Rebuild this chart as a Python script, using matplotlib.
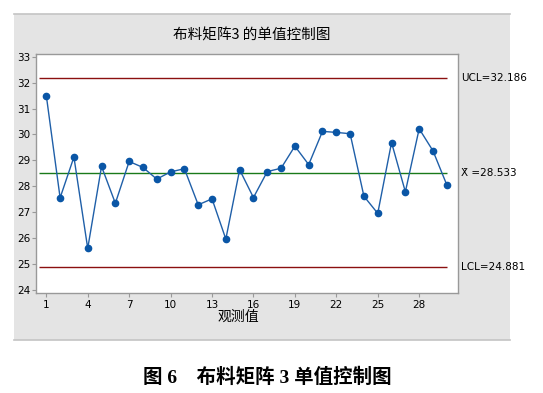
import matplotlib.pyplot as plt
from matplotlib.patches import Rectangle

# I-chart data for 布料矩阵3
obs = list(range(1, 31))
values = [31.50, 27.56, 29.13, 25.61, 28.77, 27.35, 28.96, 28.73, 28.28, 28.56,
          28.68, 27.29, 27.52, 25.97, 28.64, 27.57, 28.57, 28.70, 29.55, 28.84,
          30.12, 30.08, 30.03, 27.62, 26.96, 29.69, 27.79, 30.22, 29.37, 28.06]
ucl = 32.186
center = 28.533
lcl = 24.881
xticks = [1, 4, 7, 10, 13, 16, 19, 22, 25, 28]
yticks = [24, 25, 26, 27, 28, 29, 30, 31, 32, 33]

plt.rcParams['font.family'] = ['DejaVu Sans', 'Noto Sans CJK SC']

fig = plt.figure(figsize=(5.43, 3.93), dpi=100)
fig.patch.set_facecolor('white')

# gray minitab panel behind the axes
W, H = 543, 393
panel = Rectangle((14 / W, (H - 339.5) / H), (510 - 14) / W, (339.5 - 13.5) / H,
                  transform=fig.transFigure, facecolor='#e4e4e4',
                  edgecolor='none', zorder=-5)
fig.add_artist(panel)
fig.add_artist(plt.Line2D([14 / W, 510 / W], [(H - 13.5) / H] * 2, color='#c4c4c4', lw=1.2, zorder=-4))
fig.add_artist(plt.Line2D([14 / W, 510 / W], [(H - 339.5) / H] * 2, color='#c4c4c4', lw=1.2, zorder=-4))

ax = fig.add_axes([36.3 / W, (H - 293.3) / H, (457.7 - 36.3) / W, (293.3 - 54.3) / H])
ax.set_facecolor('white')

ax.hlines([ucl, lcl], 0.5, 30, color='#8b1010', lw=1.0)
ax.hlines(center, 0.5, 30, color='#1a7a1a', lw=1.0)
ax.plot(obs, values, color='#1f5fa8', lw=1.0, marker='o', markersize=4.5,
        markerfacecolor='#0a56a6', markeredgecolor='#0a56a6', zorder=3)

ax.set_xlim(0.276, 30.79)
ax.set_ylim(23.88, 33.09)
ax.set_xticks(xticks)
ax.set_yticks(yticks)
ax.tick_params(axis='both', direction='out', length=3, width=0.8, color='#999999',
               labelsize=7.5, pad=1.5)
for s in ax.spines.values():
    s.set_color('#999999')
    s.set_linewidth(1.0)

tr = ax.get_yaxis_transform()
ax.text(1.009, ucl, 'UCL=32.186', transform=tr, va='center', ha='left', fontsize=7.5)
ax.text(1.009, center, 'X\u0304 =28.533', transform=tr, va='center', ha='left', fontsize=7.5)
ax.text(1.009, lcl, 'LCL=24.881', transform=tr, va='center', ha='left', fontsize=7.5)

fig.text(252 / W, (H - 35) / H, '布料矩阵3 的单值控制图', ha='center', va='center',
         fontsize=10.5, family=['Noto Sans CJK SC', 'DejaVu Sans'])
fig.text(238 / W, (H - 317) / H, '观测值', ha='center', va='center',
         fontsize=10, family=['Noto Sans CJK SC', 'DejaVu Sans'])
fig.text(267 / W, (H - 377) / H, '图 6\u3000布料矩阵 3 单值控制图', ha='center', va='center',
         fontsize=14, fontweight='bold', family=['Liberation Serif', 'Noto Sans CJK SC'])

fig.savefig('out.png', dpi=100)
